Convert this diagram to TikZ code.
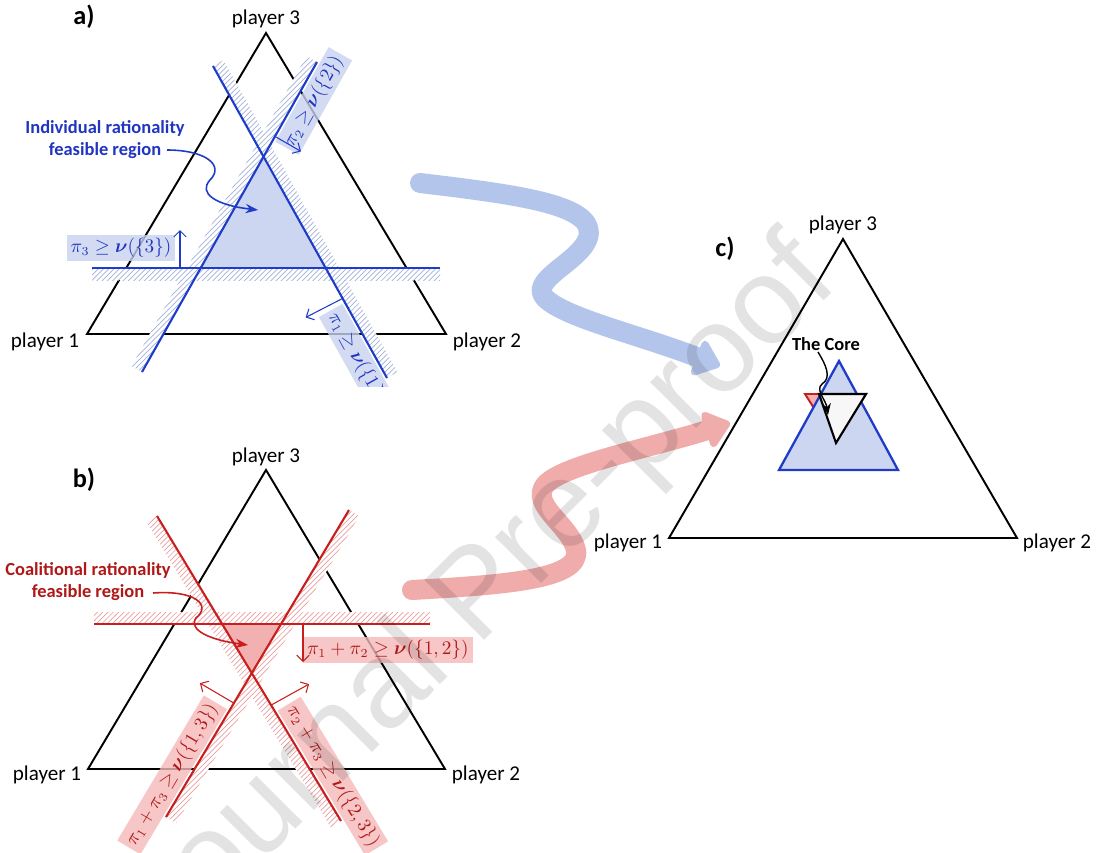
\documentclass[tikz,border=0pt]{standalone}
\usepackage{amsmath}
\usepackage[no-math]{fontspec}
\setmainfont{Carlito}
\newfontfamily\wmfont{Liberation Sans}
\usetikzlibrary{arrows.meta, calc, patterns}
\definecolor{irblue}{HTML}{1E3CC8}
\definecolor{irtext}{HTML}{2035C0}
\definecolor{irfill}{HTML}{CCD6F0}
\definecolor{irhatch}{HTML}{A3B2DC}
\definecolor{irbox}{HTML}{C8D3F0}
\definecolor{crred}{HTML}{C81E1E}
\definecolor{crtext}{HTML}{B01818}
\definecolor{crfill}{HTML}{F2B0B0}
\definecolor{crhatch}{HTML}{EAA0A0}
\definecolor{crbox}{HTML}{F5B8B8}
\definecolor{bigblue}{HTML}{B4C5EC}
\definecolor{bigred}{HTML}{F0ABAB}
\definecolor{corefill}{HTML}{F7F7F7}

% band of hatching on one side of a constraint line
\newcommand{\hatchband}[5]{%
  \path[#1] (#2) -- (#3) -- ($(#3)!0.24cm!#5:(#2)$) -- ($(#2)!0.24cm!#4:(#3)$) -- cycle;}

\begin{document}
\begin{tikzpicture}[
    x=0.02cm, y=-0.02cm,
    every node/.style={font=\fontsize{12}{14}\selectfont, inner sep=0pt},
    >=Stealth,
    simplex/.style={draw=black, line width=1.1pt, line join=miter},
    panel/.style={font=\bfseries\fontsize{15}{18}\selectfont},
    irline/.style={draw=irblue, line width=1.2pt},
    crline/.style={draw=crred, line width=1.2pt},
    bandblue/.style={preaction={fill=white}, pattern=north east lines, pattern color=irhatch},
    bandred/.style={preaction={fill=white}, pattern=north east lines, pattern color=crhatch},
    irlabel/.style={fill=irbox, fill opacity=0.8, text opacity=1, text=irtext, inner sep=2.2pt,
                    font=\fontsize{10.5}{12}\selectfont},
    crlabel/.style={fill=crbox, fill opacity=0.8, text opacity=1, text=crtext, inner sep=2.2pt,
                    font=\fontsize{10.5}{12}\selectfont},
    irarrow/.style={draw=irblue, line width=0.6pt, -{Straight Barb[length=3.5pt]}},
    crarrow/.style={draw=crred, line width=0.6pt, -{Straight Barb[length=3.5pt]}},
    note/.style={font=\bfseries\fontsize{10.5}{12.5}\selectfont, align=center},
    bigarrow/.style={line width=0.4cm, line cap=round, line join=round,
                     -{Triangle[round, length=0.55cm, width=0.85cm]}},
]

\useasboundingbox (0,0) rectangle (1112,852);
\fill[white] (0,0) rectangle (1112,852);

% ===== a) individual rationality =====
\begin{scope}
\clip (0,0) rectangle (560,386);
\coordinate (a1) at (87,334);
\coordinate (a2) at (446,334);
\coordinate (a3) at (266,33);
\coordinate (ad1) at (213,66);  \coordinate (ad2) at (387,378);
\coordinate (au1) at (142,372); \coordinate (au2) at (317,62);
\coordinate (ah1) at (92,268);  \coordinate (ah2) at (440,268);

\fill[irfill] (200,268) -- (326,268) -- (263,158) -- cycle;
\draw[simplex] (a1) -- (a2) -- (a3) -- cycle;

\hatchband{bandblue}{ad1}{ad2}{90}{-90}
\hatchband{bandblue}{au1}{au2}{90}{-90}
\hatchband{bandblue}{ah1}{ah2}{-90}{90}

\draw[irline] (ad1) -- (ad2)
  node[pos=0.91, sloped, below=1pt, irlabel] (pia1) {$\pi_1 \geq \boldsymbol{\nu}(\{1\})$};
\draw[irline] (au1) -- (au2)
  node[pos=0.9, sloped, below=1pt, irlabel] (pia2) {$\pi_2 \geq \boldsymbol{\nu}(\{2\})$};
\draw[irline] (ah1) -- (ah2);
\node[irlabel] (pia3) at (121,248) {$\pi_3 \geq \boldsymbol{\nu}(\{3\})$};

\draw[irarrow] ($(ad1)!0.745!(ad2)$) -- ++(-37,19);
\draw[irarrow] ($(au1)!0.76!(au2)$) -- ++(26,15);
\draw[irarrow] (180,268) -- ++(0,-38);

\node[panel] (lbla) at (84,17) {a)};
\node (a3name) at (266,19) {player 3};
\node (a1name) at (45,342) {player 1};
\node (a2name) at (487,342) {player 2};

\node[note, text=irtext] (irnote) at (105,140) {Individual rationality\\feasible region};
\coordinate (irfrom) at (167,150);
\coordinate (irto) at (258,210);
\draw[draw=irblue, line width=0.9pt, ->] (irfrom) .. controls (205,150) and (225,165) .. (210,180)
  .. controls (198,193) and (215,205) .. (irto);
\end{scope}

% ===== b) coalitional rationality =====
\coordinate (b1) at (88,769);
\coordinate (b2) at (445,769);
\coordinate (b3) at (266,470);
\coordinate (bd1) at (157,516); \coordinate (bd2) at (341,821);
\coordinate (bu1) at (166,817); \coordinate (bu2) at (349,510);
\coordinate (bh1) at (94,624);  \coordinate (bh2) at (430,624);

\fill[crfill] (222,624) -- (281,624) -- (252,672) -- cycle;
\draw[simplex] (b1) -- (b2) -- (b3) -- cycle;

\hatchband{bandred}{bd1}{bd2}{-90}{90}
\hatchband{bandred}{bu1}{bu2}{-90}{90}
\hatchband{bandred}{bh1}{bh2}{90}{-90}

\draw[crline] (bd1) -- (bd2)
  node[pos=0.88, sloped, above=1pt, crlabel] (pib23) {$\pi_2 + \pi_3 \geq \boldsymbol{\nu}(\{2,3\})$};
\draw[crline] (bu1) -- (bu2)
  node[pos=0.11, sloped, above=1pt, crlabel] (pib13) {$\pi_1 + \pi_3 \geq \boldsymbol{\nu}(\{1,3\})$};
\draw[crline] (bh1) -- (bh2);
\node[crlabel] (pib12) at (388,650) {$\pi_1 + \pi_2 \geq \boldsymbol{\nu}(\{1,2\})$};

\draw[crarrow] (303,624) -- ++(0,38);
\draw[crarrow] ($(bu1)!0.371!(bu2)$) -- ++(-34,-20);
\draw[crarrow] ($(bd1)!0.62!(bd2)$) -- ++(38,-21);

\node[panel] (lblb) at (84,480) {b)};
\node (b3name) at (266,457) {player 3};
\node (b1name) at (47,775) {player 1};
\node (b2name) at (486,775) {player 2};

\node[note, text=crtext] (crnote) at (88,582) {Coalitional rationality\\feasible region};
\coordinate (crfrom) at (153,593);
\coordinate (crto) at (248,645);
\draw[draw=crred, line width=0.9pt, ->] (crfrom) .. controls (195,590) and (212,605) .. (196,618)
  .. controls (188,630) and (210,640) .. (crto);

% ===== c) the core =====
\coordinate (c1) at (669,538);
\coordinate (c2) at (1017,538);
\coordinate (c3) at (843,239);
\draw[simplex] (c1) -- (c2) -- (c3) -- cycle;
\filldraw[fill=crfill, draw=crred, line width=1.1pt] (805,394) -- (866,394) -- (836,443) -- cycle;
\filldraw[fill=irfill, draw=irblue, line width=1.3pt] (779,470) -- (898,470) -- (839,361) -- cycle;
\filldraw[fill=corefill, draw=black, line width=1.2pt] (819,394) -- (866,394) -- (836,443) -- cycle;

\node[panel] (lblc) at (725,249) {c)};
\node (c3name) at (843,225) {player 3};
\node (c1name) at (628,543) {player 1};
\node (c2name) at (1057,543) {player 2};

\node[note] (corenote) at (826,344) {The Core};
\coordinate (corefrom) at (818,352);
\coordinate (coreto) at (828,415);
\draw[line width=0.8pt, ->] (corefrom) .. controls (826,365) and (832,378) .. (822,384)
  .. controls (815,390) and (826,400) .. (coreto);

% ===== transfer arrows =====
\coordinate (blstart) at (420,183);
\coordinate (blend) at (720,366);
\coordinate (rdstart) at (412,590);
\coordinate (rdend) at (730,423);
\draw[bigarrow, bigblue] (blstart) .. controls (520,195) and (598,205) .. (588,238)
  .. controls (580,262) and (528,280) .. (545,298) .. controls (565,318) and (640,335) .. (blend);
\draw[bigarrow, bigred] (rdstart) .. controls (500,585) and (582,580) .. (576,550)
  .. controls (570,525) and (530,505) .. (545,485) .. controls (562,465) and (650,448) .. (rdend);

% watermark
\node[rotate=45, text=black, text opacity=0.11, font=\wmfont\fontsize{70}{74}\selectfont] (wm)
  at (482,598) {Journal Pre-proof};

\end{tikzpicture}
\end{document}
